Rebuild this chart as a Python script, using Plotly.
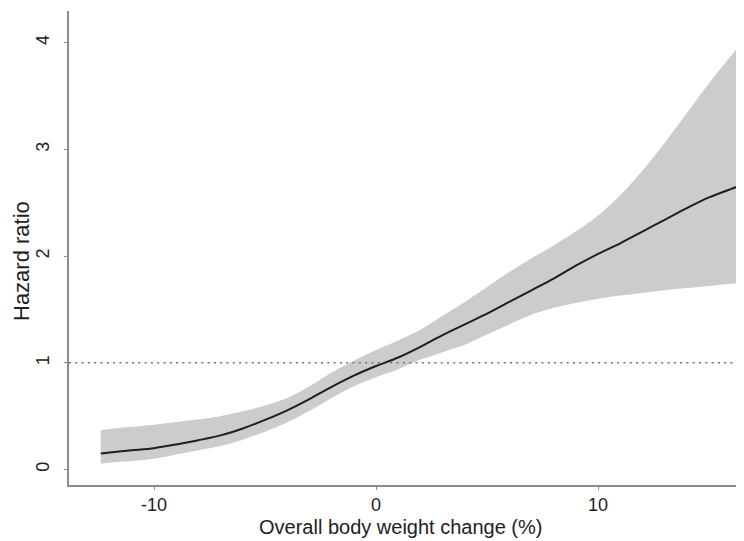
import plotly.graph_objects as go

# Data
weight_change = [-12.4, -12, -11, -10, -9, -8, -7, -6, -5, -4, -3, -2, -1, 0, 1, 2, 3, 4,
                 5, 6, 7, 8, 9, 10, 11, 12, 13, 14, 15, 16, 16.8]
hazard_ratio = [0.15, 0.16, 0.18, 0.20, 0.235, 0.275, 0.32, 0.385, 0.465, 0.555, 0.66, 0.775,
                0.88, 0.97, 1.05, 1.15, 1.26, 1.36, 1.46, 1.57, 1.68, 1.79, 1.91, 2.02, 2.12,
                2.23, 2.34, 2.45, 2.55, 2.63, 2.69]
ci_lower = [0.055, 0.065, 0.08, 0.10, 0.14, 0.18, 0.22, 0.28, 0.355, 0.44, 0.55, 0.67, 0.78,
            0.865, 0.94, 1.03, 1.10, 1.17, 1.265, 1.36, 1.45, 1.515, 1.56, 1.60, 1.63, 1.655,
            1.68, 1.70, 1.72, 1.74, 1.76]
ci_upper = [0.37, 0.38, 0.40, 0.42, 0.445, 0.47, 0.50, 0.545, 0.60, 0.67, 0.78, 0.91, 1.02,
            1.12, 1.21, 1.31, 1.44, 1.57, 1.71, 1.85, 1.98, 2.10, 2.23, 2.38, 2.57, 2.80,
            3.06, 3.34, 3.62, 3.88, 4.08]
reference_hr = 1
x_ticks = [-10, 0, 10]
x_tick_labels = ["-10", "0", "10"]
y_ticks = [0, 1, 2, 3, 4]
y_tick_labels = ["0", "1", "2", "3", "4"]
x_title = "Overall body weight change (%)"
y_title = "Hazard ratio"

FONT = "Liberation Sans, Arial, Helvetica, sans-serif"
AXIS_COLOR = "#8c8c8c"
TEXT_COLOR = "#222222"
X_RANGE = [-13.83, 16.80]
Y_RANGE = [-0.145, 4.297]

fig = go.Figure()
fig.add_trace(go.Scatter(x=weight_change, y=ci_lower, mode="lines",
                         line=dict(width=0, color="#cccccc", shape="spline", smoothing=0.8),
                         hoverinfo="skip"))
fig.add_trace(go.Scatter(x=weight_change, y=ci_upper, mode="lines", fill="tonexty",
                         fillcolor="#cccccc",
                         line=dict(width=0, color="#cccccc", shape="spline", smoothing=0.8),
                         hoverinfo="skip"))
fig.add_trace(go.Scatter(x=X_RANGE, y=[reference_hr, reference_hr], mode="lines",
                         line=dict(color="#707070", width=1.6, dash="2px,4.3px")))
fig.add_trace(go.Scatter(x=weight_change, y=hazard_ratio, mode="lines",
                         line=dict(color="#1e1e1e", width=2, shape="spline", smoothing=0.8)))

fig.update_layout(
    width=744, height=541,
    margin=dict(l=61, r=3, t=3, b=64),
    plot_bgcolor="white", paper_bgcolor="white",
    showlegend=False,
    font=dict(family=FONT, color=TEXT_COLOR, size=18),
)
fig.update_xaxes(range=X_RANGE, tickvals=x_ticks, ticktext=x_tick_labels,
                 ticks="outside", ticklen=3, tickwidth=1, tickcolor=AXIS_COLOR,
                 showline=True, linecolor=AXIS_COLOR, linewidth=1.5,
                 showgrid=False, zeroline=False,
                 tickfont=dict(size=18, family=FONT, color=TEXT_COLOR))
fig.update_yaxes(range=Y_RANGE, tickvals=y_ticks, ticktext=y_tick_labels,
                 ticks="outside", ticklen=3, tickwidth=1, tickcolor=AXIS_COLOR,
                 showline=True, linecolor=AXIS_COLOR, linewidth=1.5,
                 showgrid=False, zeroline=False, tickangle=-90, ticklabelstandoff=8,
                 tickfont=dict(size=18, family=FONT, color=TEXT_COLOR))

fig.add_annotation(text=x_title, xref="paper", yref="paper",
                   x=(392 - 61) / 680, y=-(519 - 477) / 474,
                   xanchor="center", yanchor="middle", showarrow=False,
                   font=dict(size=20, family=FONT, color=TEXT_COLOR))
fig.add_annotation(text=y_title, xref="paper", yref="paper",
                   x=(13 - 61) / 680, y=(477 - 253) / 474, textangle=-90,
                   xanchor="center", yanchor="middle", showarrow=False,
                   font=dict(size=22, family=FONT, color=TEXT_COLOR))

fig.write_html("out.html")
